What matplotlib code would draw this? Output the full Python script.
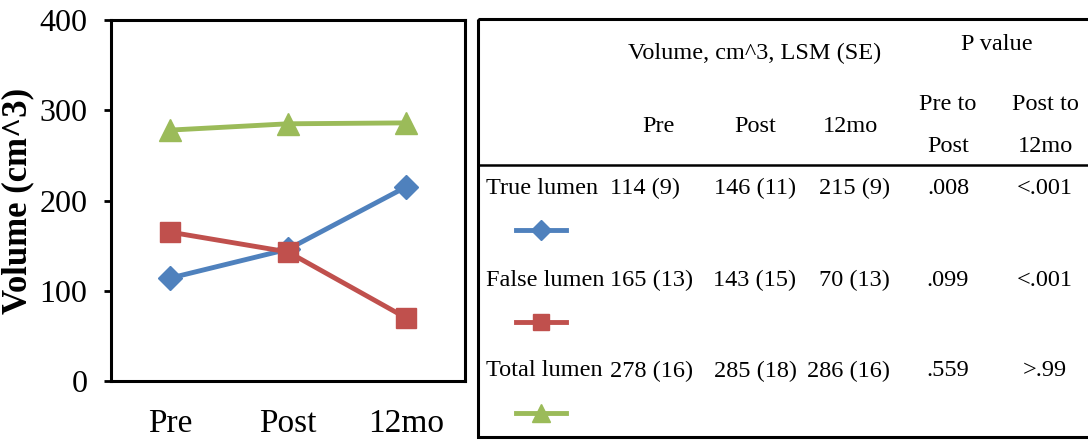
import matplotlib
matplotlib.use('Agg')
import matplotlib.pyplot as plt
from matplotlib.lines import Line2D
from matplotlib.patches import Rectangle

plt.rcParams['font.family'] = ['Liberation Serif', 'DejaVu Serif']

# data
times = ['Pre', 'Post', '12mo']
true_lumen = [114, 146, 215]
false_lumen = [165, 143, 70]
total_lumen = [278, 285, 286]

row_names = ['True lumen', 'False lumen', 'Total lumen']
lsm_text = [['114 (9)', '146 (11)', '215 (9)'],
            ['165 (13)', '143 (15)', '70 (13)'],
            ['278 (16)', '285 (18)', '286 (16)']]
p_text = [['.008', '<.001'],
          ['.099', '<.001'],
          ['.559', '>.99']]

blue = '#4F81BD'
red = '#C0504D'
green = '#9BBB59'

W, H = 1088, 445
fig = plt.figure(figsize=(W / 100, H / 100), dpi=100)

# line chart, left part
ax = fig.add_axes([111 / W, 1 - 381 / H, 354 / W, 361 / H])
x = range(len(times))
ax.plot(x, true_lumen, color=blue, lw=3.5, marker='D', ms=12, zorder=3)
ax.plot(x, false_lumen, color=red, lw=3.5, marker='s', ms=15, zorder=3)
ax.plot(x, total_lumen, color=green, lw=3.5, marker='^', ms=16, zorder=3)
ax.set_xlim(-0.5, 2.5)
ax.set_ylim(0, 400)
ax.set_yticks([0, 100, 200, 300, 400])
ax.set_xticks(list(x))
ax.set_xticklabels(times)
ax.tick_params(axis='y', direction='out', length=5, width=2, labelsize=23, pad=12)
ax.tick_params(axis='x', length=0, labelsize=24, pad=20)
for s in ax.spines.values():
    s.set_linewidth(2.2)
ax.set_ylabel('Volume (cm^3)', fontsize=25, fontweight='bold', labelpad=4)

# table, right part (pixel coordinates overlay)
tb = fig.add_axes([0, 0, 1, 1])
tb.set_xlim(0, W)
tb.set_ylim(H, 0)
tb.axis('off')
tb.add_patch(Rectangle((478, 19), 620, 418, fill=False, lw=2.2, ec='black'))
tb.plot([478, W], [165, 165], color='black', lw=1.8)

fs = 17.5
tb.text(755, 53, 'Volume, cm^3, LSM (SE)', fontsize=fs, ha='center', va='center')
tb.text(997, 44, 'P value', fontsize=fs, ha='center', va='center')
for xc, t in zip([658, 755, 850], times):
    tb.text(xc, 127, t, fontsize=fs, ha='center', va='center')
tb.text(948, 104, 'Pre to', fontsize=fs, ha='center', va='center')
tb.text(948, 147, 'Post', fontsize=fs, ha='center', va='center')
tb.text(1045, 104, 'Post to', fontsize=fs, ha='center', va='center')
tb.text(1045, 147, '12mo', fontsize=fs, ha='center', va='center')

row_y = [188, 280, 371]
colors = [blue, red, green]
markers = ['D', 's', '^']
msizes = [10, 12, 13]
for i, ry in enumerate(row_y):
    tb.text(486, ry, row_names[i], fontsize=fs, ha='left', va='center')
    tb.text(610, ry, lsm_text[i][0], fontsize=fs, ha='left', va='center')
    tb.text(755, ry, lsm_text[i][1], fontsize=fs, ha='center', va='center')
    tb.text(890, ry, lsm_text[i][2], fontsize=fs, ha='right', va='center')
    tb.text(948, ry, p_text[i][0], fontsize=fs, ha='center', va='center')
    tb.text(1045, ry, p_text[i][1], fontsize=fs, ha='center', va='center')
    # legend key: short line with the marker in the middle
    tb.add_line(Line2D([516, 541, 566], [ry + 42] * 3, color=colors[i], lw=3.5,
                       marker=markers[i], ms=msizes[i], markevery=[1]))

fig.savefig('out.png', dpi=100)
